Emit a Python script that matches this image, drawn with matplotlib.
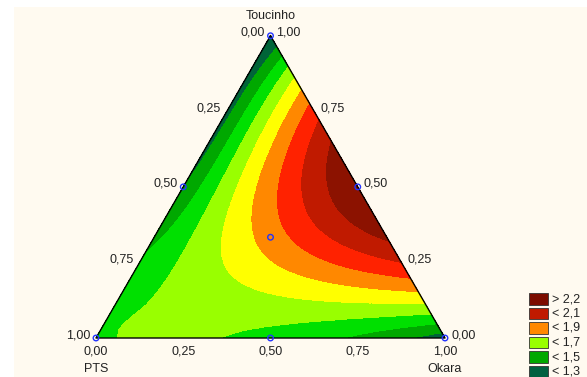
import numpy as np
import matplotlib
matplotlib.use('Agg')
import matplotlib.pyplot as plt
import matplotlib.tri as mtri
from matplotlib.patches import Rectangle

plt.rcParams['font.family'] = ['Liberation Sans', 'DejaVu Sans']

# mixture components: Toucinho (top), PTS (bottom left), Okara (bottom right)
# fitted Scheffe-type model, order of edge terms: TP, TO, PO
b_lin = [1.17, 1.49, 1.24]      # T, P, O
b_quad = [-0.12, 3.57, 0.43]
d_cub = [0.02, -0.08, 0.01]     # x_i x_j (x_i - x_j)
q_quart = [0.65, 0.0, 0.0]      # x_i x_j (x_i - x_j)^2
b_tpo = [-3.32, 15.76, -13.7]   # T*P*O * (c0 + c1*T + c2*T^2)

# contour levels and fill colours (low -> high)
levels = [1.3, 1.4, 1.5, 1.6, 1.7, 1.8, 1.9, 2.0]
fill_colors = ['#006438', '#00a800', '#00e000', '#99ff00', '#ffff00',
               '#ff8800', '#ff2200', '#c01a00', '#8c1200']

legend_labels = ['> 2,2', '< 2,1', '< 1,9', '< 1,7', '< 1,5', '< 1,3']
legend_colors = ['#7c0c00', '#c01a00', '#ff8800', '#99ff00', '#00a800', '#006040']

# simplex-centroid design points (T, P, O)
design_T = [1, 0, 0, 0.5, 0.5, 0, 1/3]
design_P = [0, 1, 0, 0.5, 0, 0.5, 1/3]
design_O = [0, 0, 1, 0, 0.5, 0.5, 1/3]

tick_vals = [0.0, 0.25, 0.5, 0.75, 1.0]

W, H = 587, 377


def to_xy(t, p, o):
    t = np.asarray(t, float); o = np.asarray(o, float)
    return o + 0.5 * t, t * np.sqrt(3) / 2


def edge(a, b, k):
    return a*b*(b_quad[k] + d_cub[k]*(a - b) + q_quart[k]*(a - b)**2)


def model(t, p, o):
    y = b_lin[0]*t + b_lin[1]*p + b_lin[2]*o
    y += edge(t, p, 0) + edge(t, o, 1) + edge(p, o, 2)
    y += t*p*o*(b_tpo[0] + b_tpo[1]*t + b_tpo[2]*t**2)
    return y


def fmt(v):
    return f"{v:.2f}".replace('.', ',')


fig = plt.figure(figsize=(W/100, H/100), dpi=100)
fig.patch.set_facecolor('white')
fig.patches.append(Rectangle((14/W, 0), 1, (H-7)/H, transform=fig.transFigure,
                             facecolor='#fffaf0', edgecolor='none', zorder=-5))

ax = fig.add_axes([0, 0, 1, 1])
ax.set_xlim(-96/349, (W-96)/349)
ax.set_ylim(-39/349, (H-39)/349)
ax.axis('off')

# grid on the simplex
n = 40
tt, oo = [], []
for i in range(n+1):
    for j in range(n+1-i):
        tt.append(i/n); oo.append(j/n)
tt = np.array(tt); oo = np.array(oo); pp = 1 - tt - oo
gx, gy = to_xy(tt, pp, oo)
tri = mtri.Triangulation(gx, gy)
z = model(tt, pp, oo)

ax.tricontourf(tri, z, levels=[-10] + levels + [10], colors=fill_colors,
               antialiased=False)

# outline
cx, cy = to_xy([1, 0, 0, 1], [0, 1, 0, 0], [0, 0, 1, 0])
ax.plot(cx, cy, color='black', lw=1.0)

# design points
dx, dy = to_xy(design_T, design_P, design_O)
ax.scatter(dx, dy, s=16, facecolors='none', edgecolors='#2233ff', lw=1.0, zorder=5)

fs = 9
for v in tick_vals:
    # left edge: PTS fraction
    x, y = to_xy(1 - v, v, 0)
    ax.annotate(fmt(v), (x, y), xytext=(-6, 3), textcoords='offset pixels',
                ha='right', va='center', fontsize=fs, color='#222222')
    # right edge: Toucinho fraction
    x, y = to_xy(v, 0, 1 - v)
    ax.annotate(fmt(v), (x, y), xytext=(6, 3), textcoords='offset pixels',
                ha='left', va='center', fontsize=fs, color='#222222')
    # bottom: Okara fraction
    x, y = to_xy(0, 1 - v, v)
    ax.annotate(fmt(v), (x, y), xytext=(0, -13), textcoords='offset pixels',
                ha='center', va='center', fontsize=fs, color='#222222')

for name, bc, off in [('Toucinho', (1, 0, 0), 20), ('PTS', (0, 1, 0), -31),
                      ('Okara', (0, 0, 1), -31)]:
    x, y = to_xy(*bc)
    ax.annotate(name, (x, y), xytext=(0, off), textcoords='offset pixels',
                ha='center', va='center', fontsize=fs, color='#222222')

# legend
for k, (lab, col) in enumerate(zip(legend_labels, legend_colors)):
    top = 293 + 14.5*k
    fig.patches.append(Rectangle((529/W, 1 - (top + 11.5)/H), 18.5/W, 11.5/H,
                                 transform=fig.transFigure, facecolor=col,
                                 edgecolor='#333333', lw=0.6))
    fig.text(552/W, 1 - (top + 6)/H, lab, ha='left', va='center', fontsize=fs,
             color='#222222')

fig.savefig('out.png', dpi=100)
